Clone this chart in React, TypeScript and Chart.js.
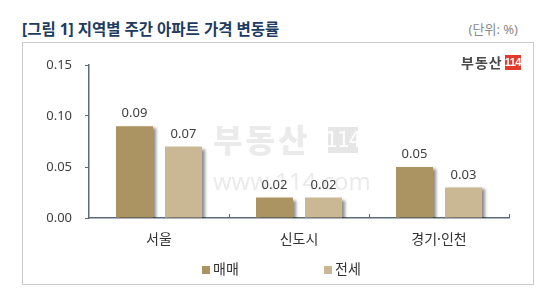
import React, { useEffect, useRef } from "react";
import { Chart, registerables } from "chart.js";

Chart.register(...registerables);

const categories = ["서울", "신도시", "경기·인천"];
const seriesNames = ["매매", "전세"];
const saleValues = [0.09, 0.02, 0.05];
const jeonseValues = [0.07, 0.02, 0.03];
const yTicks = [0, 0.05, 0.1, 0.15];
const seriesColors = ["#ab9461", "#c9b893"];

const FONT = '"Noto Sans", "Noto Sans CJK KR", sans-serif';
const KFONT = '"Noto Sans CJK KR", sans-serif';
const AXIS = "#5d6b79";

const decorPlugin = {
  id: "decor",
  beforeDatasetsDraw(chart: any) {
    const ctx = chart.ctx;
    ctx.save();
    // watermark
    ctx.fillStyle = "#ebebeb";
    ctx.font = `900 32px ${KFONT}`;
    ctx.textBaseline = "middle";
    ctx.textAlign = "left";
    (ctx as any).letterSpacing = "3px";
    ctx.fillText("부동산", 213, 140);
    (ctx as any).letterSpacing = "0px";
    ctx.fillStyle = "#e6e6e6";
    ctx.fillRect(328, 127, 30, 26);
    ctx.fillStyle = "#ffffff";
    ctx.font = `22px "Liberation Sans Narrow", "DejaVu Sans Condensed", sans-serif`;
    ctx.textAlign = "center";
    (ctx as any).letterSpacing = "-1px";
    ctx.fillText("114", 343, 141);
    (ctx as any).letterSpacing = "0px";
    ctx.fillStyle = "#eaeaea";
    ctx.font = `24px "Open Sans", sans-serif`;
    ctx.textAlign = "left";
    ctx.fillText("www.114.com", 213, 183);
    ctx.restore();

    ctx.save();
    ctx.shadowColor = "rgba(0,0,0,0.45)";
    ctx.shadowOffsetX = 3;
    ctx.shadowOffsetY = 2;
    ctx.shadowBlur = 3;
  },
  afterDatasetsDraw(chart: any) {
    const ctx = chart.ctx;
    ctx.restore();
    ctx.save();
    ctx.fillStyle = "#404040";
    ctx.font = `13px ${FONT}`;
    ctx.textAlign = "center";
    ctx.textBaseline = "bottom";
    chart.data.datasets.forEach((ds: any, i: number) => {
      const meta = chart.getDatasetMeta(i);
      meta.data.forEach((el: any, j: number) => {
        ctx.fillText(Number(ds.data[j]).toFixed(2), el.x, el.y - 6);
      });
    });
    // inward x ticks at category boundaries
    const area = chart.chartArea;
    ctx.strokeStyle = AXIS;
    ctx.lineWidth = 1;
    const n = chart.data.labels.length;
    const w = (area.right - area.left) / n;
    for (let k = 1; k <= n; k++) {
      const x = Math.round(area.left + w * k) + 0.5;
      ctx.beginPath();
      ctx.moveTo(x, area.bottom);
      ctx.lineTo(x, area.bottom - 4);
      ctx.stroke();
    }
    ctx.restore();
  },
  afterDraw(chart: any) {
    const ctx = chart.ctx;
    const area = chart.chartArea;
    ctx.save();
    ctx.font = `14px ${FONT}`;
    ctx.textBaseline = "middle";
    ctx.textAlign = "left";
    const cx = (area.left + area.right) / 2;
    let x = cx - 97;
    const y = 270;
    chart.data.datasets.forEach((ds: any) => {
      ctx.fillStyle = ds.backgroundColor;
      ctx.fillRect(x, y - 4, 8, 8);
      ctx.fillStyle = "#333333";
      ctx.fillText(ds.label, x + 11, y);
      x += 122;
    });
    ctx.restore();
  },
};

export default function App() {
  const ref = useRef<HTMLCanvasElement>(null);
  useEffect(() => {
    if (!ref.current) return;
    const chart = new Chart(ref.current, {
      type: "bar",
      data: {
        labels: categories,
        datasets: [
          {
            label: seriesNames[0],
            data: saleValues,
            backgroundColor: seriesColors[0],
            barPercentage: 0.755,
            categoryPercentage: 0.7,
          },
          {
            label: seriesNames[1],
            data: jeonseValues,
            backgroundColor: seriesColors[1],
            barPercentage: 0.755,
            categoryPercentage: 0.7,
          },
        ],
      },
      options: {
        responsive: false,
        animation: false,
        layout: { padding: { left: 22, right: 31, top: 65, bottom: 40 } },
        plugins: {
          legend: { display: false },
          tooltip: { enabled: false },
          title: { display: false },
        },
        scales: {
          y: {
            min: 0,
            max: 0.15,
            afterFit: (s: any) => {
              s.width = 67;
            },
            afterBuildTicks: (s: any) => {
              s.ticks = yTicks.map((v) => ({ value: v }));
            },
            ticks: {
              callback: (v: any) => Number(v).toFixed(2),
              font: { family: FONT, size: 13 },
              color: "#404040",
              padding: 13,
            },
            grid: {
              drawOnChartArea: false,
              drawTicks: true,
              tickLength: 4,
              color: AXIS,
            },
            border: { display: true, color: AXIS, width: 1.5 },
          },
          x: {
            afterFit: (s: any) => {
              s.height = 34;
            },
            ticks: {
              font: { family: FONT, size: 14 },
              color: "#333333",
              padding: 14,
            },
            grid: { display: false, drawTicks: false },
            border: { display: true, color: AXIS, width: 1.5 },
          },
        },
      },
      plugins: [decorPlugin],
    });
    return () => chart.destroy();
  }, []);

  return (
    <div
      style={{
        position: "absolute",
        left: 0,
        top: 0,
        width: 540,
        height: 292,
        background: "#ffffff",
        overflow: "hidden",
        fontFamily: FONT,
      }}
    >
      <div
        style={{
          position: "absolute",
          left: 22,
          top: 42,
          width: 510,
          height: 241,
          border: "1.5px solid #cacaca",
        }}
      />
      <div
        style={{
          position: "absolute",
          left: 22,
          top: 17,
          fontSize: 15.5,
          fontWeight: 700,
          color: "#203a60",
          lineHeight: "24px",
          whiteSpace: "nowrap",
        }}
      >
        [그림 1] 지역별 주간 아파트 가격 변동률
      </div>
      <div
        style={{
          position: "absolute",
          right: 22,
          top: 19,
          fontSize: 13,
          color: "#8a8a8a",
          lineHeight: "20px",
          whiteSpace: "nowrap",
        }}
      >
        (단위: %)
      </div>
      <canvas
        ref={ref}
        width={540}
        height={292}
        style={{ position: "absolute", left: 0, top: 0, width: 540, height: 292 }}
      />
      <div
        style={{
          position: "absolute",
          left: 461,
          top: 54,
          display: "flex",
          alignItems: "center",
          gap: 2,
        }}
      >
        <span
          style={{
            fontSize: 14,
            fontWeight: 700,
            color: "#4a4a4a",
            letterSpacing: 1,
            lineHeight: "16px",
            fontFamily: KFONT,
          }}
        >
          부동산
        </span>
        <span
          style={{
            background: "#e23b2e",
            color: "#ffffff",
            fontSize: 11,
            fontWeight: 700,
            lineHeight: "15px",
            width: 16,
            textAlign: "center",
            display: "inline-block",
            letterSpacing: -0.5,
            fontFamily: '"Liberation Sans Narrow", sans-serif',
          }}
        >
          114
        </span>
      </div>
    </div>
  );
}
